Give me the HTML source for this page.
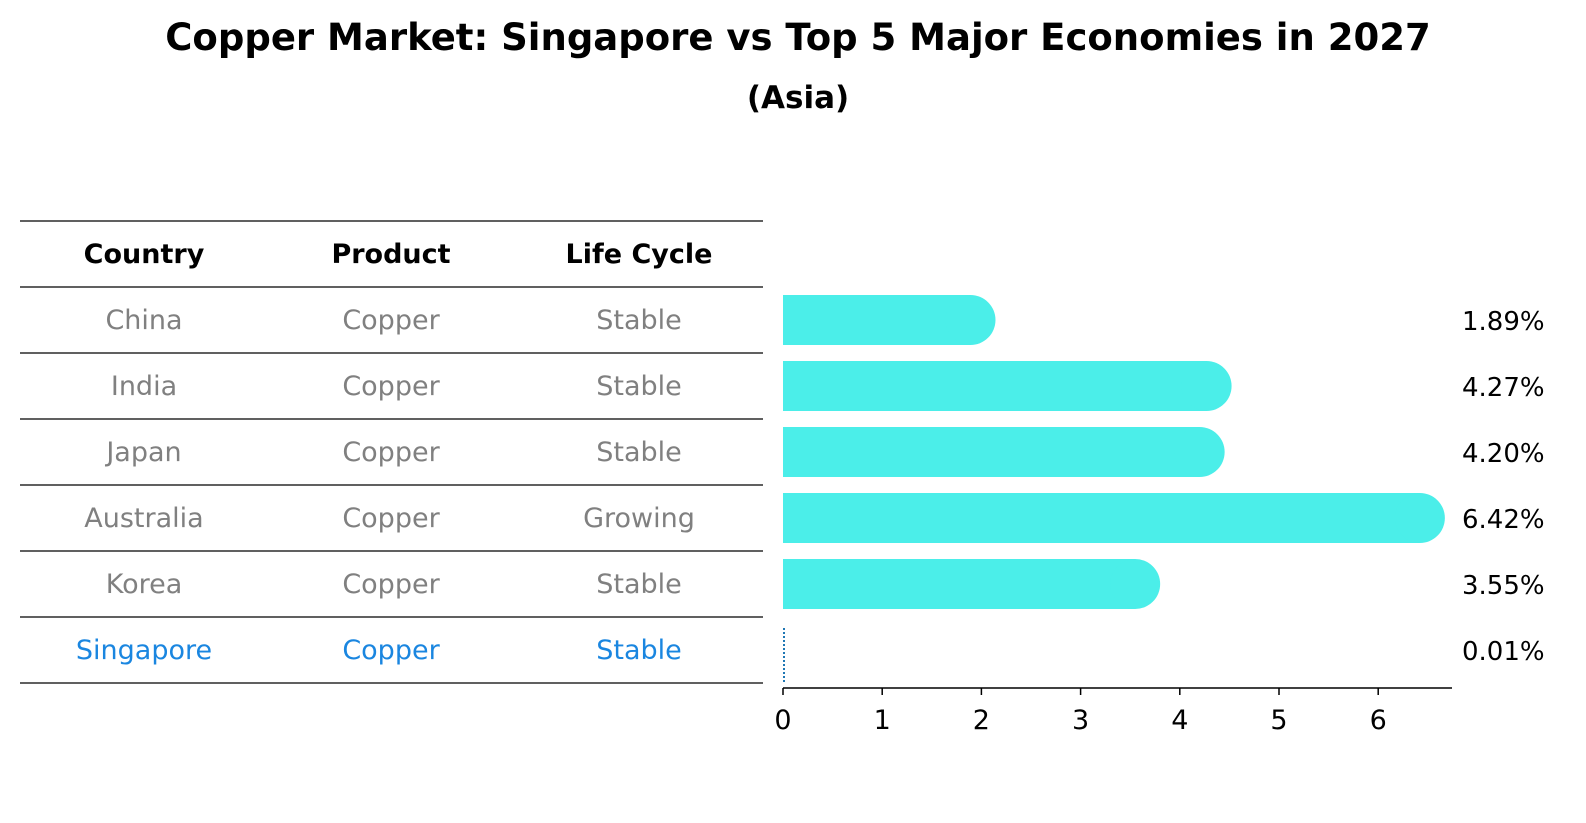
<!DOCTYPE html>
<html><head><meta charset="utf-8"><style>
html,body{margin:0;padding:0;background:#fff;}
svg{display:block;font-family:"DejaVu Sans","Liberation Sans",sans-serif;}
</style></head><body>
<svg id="chart" width="1586" height="823" viewBox="0 0 1586 823">
<rect width="1586" height="823" fill="#fff"/>
<text x="798" y="50" text-anchor="middle" font-size="37" font-weight="bold">Copper Market: Singapore vs Top 5 Major Economies in 2027</text>
<text x="798" y="108" text-anchor="middle" font-size="31" font-weight="bold">(Asia)</text>
<g id="table"></g>
<g id="bars"></g>
</svg>
<script>
const countries = ["China","India","Japan","Australia","Korea","Singapore"];
const products = ["Copper","Copper","Copper","Copper","Copper","Copper"];
const lifeCycles = ["Stable","Stable","Stable","Growing","Stable","Stable"];
const values = [1.89,4.27,4.20,6.42,3.55,0.01];
const tickLabels = [0,1,2,3,4,5,6];

const NS="http://www.w3.org/2000/svg";
function mk(tag,attrs,parent){const e=document.createElementNS(NS,tag);for(const k in attrs)e.setAttribute(k,attrs[k]);parent.appendChild(e);return e;}
const table=document.getElementById('table');
const bars=document.getElementById('bars');
const rowTop=221, rowH=66.0;
const colX=[144,391,639];
function rowY(i){return rowTop+rowH*(i+1)+rowH/2;}
for(let i=0;i<=countries.length+1;i++){
  const l=mk('line',{x1:20,x2:763,y1:rowTop+rowH*i,y2:rowTop+rowH*i,stroke:'#000','stroke-width':1.2},table);
  
  
}
const headers=["Country","Product","Life Cycle"];
headers.forEach((h,j)=>{
  const t=mk('text',{x:colX[j],y:rowTop+rowH/2+9,'text-anchor':'middle','font-size':27,'font-weight':'bold'},table);
  t.textContent=h;
  
  
});
countries.forEach((c,i)=>{
  const isSg=c==="Singapore";
  const fill=isSg?'#1a86e0':'#808080';
  [c,products[i],lifeCycles[i]].forEach((v,j)=>{
    const t=mk('text',{x:colX[j],y:rowY(i)+9,'text-anchor':'middle','font-size':27,fill:fill},table);
    t.textContent=v;
    
    
  });
});
const x0=783, pxPer=99.2;
function xs(v){return x0+v*pxPer;}
const axis=mk('line',{x1:x0,x2:1452,y1:688,y2:688,stroke:'#000','stroke-width':1.5},bars);


tickLabels.forEach(t=>{
  const tk=mk('line',{x1:xs(t),x2:xs(t),y1:688,y2:695,stroke:'#000','stroke-width':1.5},bars);
  
  
  const tl=mk('text',{x:xs(t),y:729,'text-anchor':'middle','font-size':27},bars);
  tl.textContent=t;
  
  
});
const barH=50, rad=25;
values.forEach((v,i)=>{
  const cy=rowY(i);
  if(countries[i]==="Singapore"){
    const d=mk('line',{x1:xs(0)+1,x2:xs(0)+1,y1:cy-22,y2:cy+32,stroke:'#1f77b4','stroke-width':2,'stroke-dasharray':'2,2'},bars);
    
    
  } else {
    const g=mk('g',{},bars);
    
    
    mk('rect',{x:x0,y:cy-barH/2,width:Math.max(0,xs(v)-x0),height:barH,fill:'#4beee9'},g);
    mk('circle',{cx:xs(v),cy:cy,r:rad,fill:'#4beee9'},g);
  }
  const lbl=mk('text',{x:1462,y:cy+10,'font-size':26},bars);
  lbl.textContent=v.toFixed(2)+'%';
  
  
});
</script>
</body></html>
